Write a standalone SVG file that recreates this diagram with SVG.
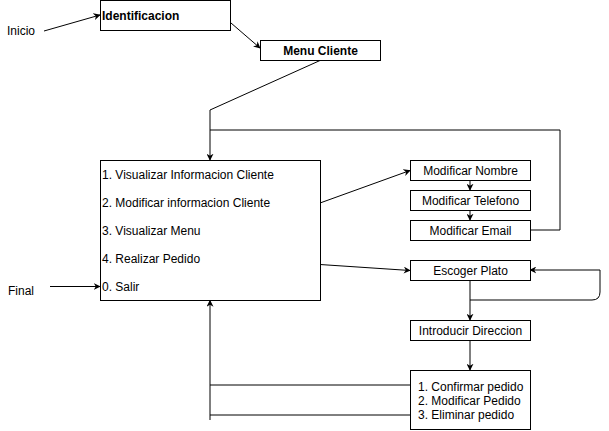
<svg xmlns="http://www.w3.org/2000/svg" width="609" height="431" viewBox="0 0 609 431">
<defs>
<marker id="arr" viewBox="0 0 10 10" refX="9" refY="5" markerWidth="7" markerHeight="7" markerUnits="userSpaceOnUse" orient="auto">
<path d="M0,0 L10,5 L0,10 L3,5 Z" fill="#000"/>
</marker>
<style>
.box{fill:#fff;stroke:#000;stroke-width:1}
.t{font-family:"Liberation Sans",Arial,sans-serif;font-size:12px;fill:#000}
.b{font-weight:bold}
.c{text-anchor:middle}
.e{fill:none;stroke:#000;stroke-width:1}
</style>
</defs>
<rect width="609" height="431" fill="#fff"/>
<g id="connectors">
<path class="e" d="M44,31 L100,15" marker-end="url(#arr)"/>
<path class="e" d="M231,23 L260,48" marker-end="url(#arr)"/>
<path class="e" d="M320,60.5 L210,110 L210,160" marker-end="url(#arr)"/>
<path class="e" d="M530,230 L560,230 L560,130 L210,130"/>
<path class="e" d="M320,203 L410,170.5" marker-end="url(#arr)"/>
<path class="e" d="M470,180.5 L470,190" marker-end="url(#arr)"/>
<path class="e" d="M470,210.5 L470,220" marker-end="url(#arr)"/>
<path class="e" d="M320,264.5 L410,270.5" marker-end="url(#arr)"/>
<path class="e" d="M470,280.5 L470,320" marker-end="url(#arr)"/>
<path class="e" d="M470,300 L592,300 Q600,300 600,292 L600,270 L530,270" marker-end="url(#arr)"/>
<path class="e" d="M470,340.5 L470,370" marker-end="url(#arr)"/>
<path class="e" d="M410,385 L210,385"/>
<path class="e" d="M410,415 L210,415"/>
<path class="e" d="M210,420 L210,300.5" marker-end="url(#arr)"/>
<path class="e" d="M50,286.5 L100,286.5" marker-end="url(#arr)"/>
</g>
<g id="inicio"><text class="t" x="7" y="35">Inicio</text></g>
<g id="final"><text class="t" x="8" y="295">Final</text></g>
<g id="identificacion">
<rect class="box" x="100.5" y="0.5" width="130" height="30"/>
<text class="t b" x="102" y="20">Identificacion</text>
</g>
<g id="menu-cliente">
<rect class="box" x="260.5" y="40.5" width="120" height="20"/>
<text class="t b c" x="320.5" y="55">Menu Cliente</text>
</g>
<g id="menu-principal">
<rect class="box" x="100.5" y="160.5" width="220" height="140"/>
<text class="t" x="102" y="179">1. Visualizar Informacion Cliente</text>
<text class="t" x="102" y="207">2. Modificar informacion Cliente</text>
<text class="t" x="102" y="235">3. Visualizar Menu</text>
<text class="t" x="102" y="263">4. Realizar Pedido</text>
<text class="t" x="102" y="291">0. Salir</text>
</g>
<g id="modificar-nombre">
<rect class="box" x="410.5" y="160.5" width="120" height="20"/>
<text class="t c" x="470.5" y="175">Modificar Nombre</text>
</g>
<g id="modificar-telefono">
<rect class="box" x="410.5" y="190.5" width="120" height="20"/>
<text class="t c" x="470.5" y="205">Modificar Telefono</text>
</g>
<g id="modificar-email">
<rect class="box" x="410.5" y="220.5" width="120" height="20"/>
<text class="t c" x="470.5" y="235">Modificar Email</text>
</g>
<g id="escoger-plato">
<rect class="box" x="410.5" y="260.5" width="120" height="20"/>
<text class="t c" x="470.5" y="275">Escoger Plato</text>
</g>
<g id="introducir-direccion">
<rect class="box" x="410.5" y="320.5" width="120" height="20"/>
<text class="t c" x="470.5" y="335">Introducir Direccion</text>
</g>
<g id="opciones-pedido">
<rect class="box" x="410.5" y="370.5" width="120" height="59"/>
<text class="t" x="418" y="391">1. Confirmar pedido</text>
<text class="t" x="418" y="405">2. Modificar Pedido</text>
<text class="t" x="418" y="419">3. Eliminar pedido</text>
</g>
</svg>
